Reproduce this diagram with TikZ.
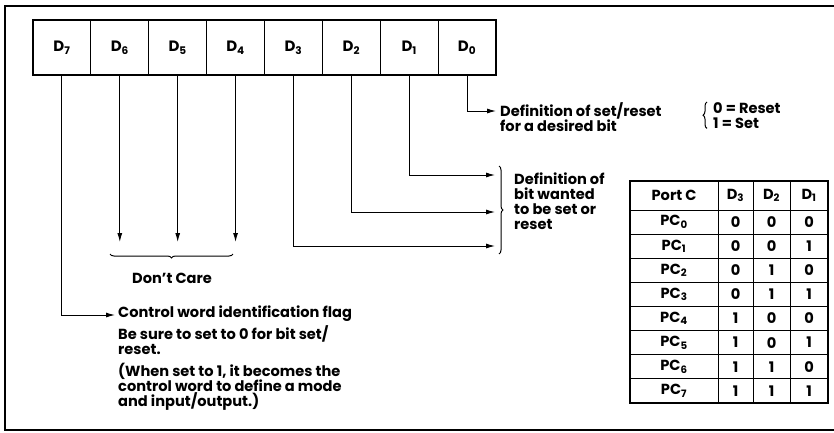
\documentclass[tikz,border=0pt]{standalone}
\usepackage{fontspec}
\setmainfont{Poppins}
\usetikzlibrary{positioning,arrows.meta,decorations.pathreplacing}

\begin{document}
\begin{tikzpicture}[x=1pt,y=-1pt,
  font=\bfseries\fontsize{14.6}{15}\selectfont,
  bitbox/.style={
    rectangle,
    draw=black,
    line width=0.8pt,
    minimum width=57.875pt,
    minimum height=55pt,
    inner sep=0pt,
    outer sep=0pt,
    font=\bfseries\fontsize{15}{15}\selectfont,
  },
  note/.style={align=left, inner sep=0pt, anchor=north west},
  arr/.style={-{Latex[length=9pt,width=5pt]}, line width=1pt},
  bracedeco/.style={decorate, decoration={brace, amplitude=4pt}, line width=1pt}]
\useasboundingbox (0,0) rectangle (834,432);
\draw[line width=1.6pt] (840,6) -| (5,430) -- (840,430);

% control word register
\node[bitbox, anchor=north west] (d7) at (33,20) {D\textsubscript{7}};
\node[bitbox] (d6) [right=0pt of d7] {D\textsubscript{6}};
\node[bitbox] (d5) [right=0pt of d6] {D\textsubscript{5}};
\node[bitbox] (d4) [right=0pt of d5] {D\textsubscript{4}};
\node[bitbox] (d3) [right=0pt of d4] {D\textsubscript{3}};
\node[bitbox] (d2) [right=0pt of d3] {D\textsubscript{2}};
\node[bitbox] (d1) [right=0pt of d2] {D\textsubscript{1}};
\node[bitbox] (d0) [right=0pt of d1] {D\textsubscript{0}};
\draw[line width=1.6pt] (d7.north west) rectangle (d0.south east);

% D0
\node[note] (setdef) at (500,102) {Definition of set/reset\\for a desired bit};
\node[note] (setval) at (713,102) {0 = Reset\\1 = Set};
\draw[bracedeco] ([xshift=-6pt]setval.south west) -- ([xshift=-6pt]setval.north west);
\draw[arr] (d0.south) |- ([xshift=-4pt,yshift=-9pt]setdef.north west);

% D3 D2 D1
\node[note] (bitdef) at (514,173) {Definition of\\bit wanted\\to be set or\\reset};
\coordinate (bit1) at (495,175);
\coordinate (bit2) at (495,212);
\coordinate (bit3) at (495,246);
\draw[arr] (d1.south) |- (bit1);
\draw[arr] (d2.south) |- (bit2);
\draw[arr] (d3.south) |- (bit3);
\draw[bracedeco] (499,166) -- (499,254);

% D6 D5 D4
\coordinate (dclevel) at (0,242);
\draw[arr] (d6.south) -- (d6.south |- dclevel);
\draw[arr] (d5.south) -- (d5.south |- dclevel);
\draw[arr] (d4.south) -- (d4.south |- dclevel);
\draw[bracedeco] (233,254) -- (110,254);
\node (dontcare) at (172,278) {Don't Care};

% D7
\node[note] (ctrl) at (118,306) {Control word identification flag\\[3pt]
  Be sure to set to 0 for bit set/\\reset.\\[7pt]
  (When set to 1, it becomes the\\control word to define a mode\\and input/output.)};
\draw[arr] (d7.south) |- ([xshift=-3pt,yshift=-9pt]ctrl.north west);

% port C table
\draw[line width=1.4pt] (630,181) rectangle (828,403);
\foreach \x in {718,753,790}
  \draw[line width=1pt] (\x,181) -- (\x,403);
\foreach \k in {0,...,7}
  \draw[line width=1pt] (630,{210+24.125*\k}) -- (828,{210+24.125*\k});
\node (portc) at (674,195.5) {Port C};
\node (hd3) at (735.5,195.5) {D\textsubscript{3}};
\node (hd2) at (771.5,195.5) {D\textsubscript{2}};
\node (hd1) at (809,195.5) {D\textsubscript{1}};
\foreach \a/\b/\c [count=\i from 0] in {0/0/0,0/0/1,0/1/0,0/1/1,1/0/0,1/0/1,1/1/0,1/1/1}{
  \node (pc\i) at (674,{222+24.125*\i}) {PC\textsubscript{\i}};
  \node (pc\i a) at (735.5,{222+24.125*\i}) {\a};
  \node (pc\i b) at (771.5,{222+24.125*\i}) {\b};
  \node (pc\i c) at (809,{222+24.125*\i}) {\c};
}
\end{tikzpicture}
\end{document}
